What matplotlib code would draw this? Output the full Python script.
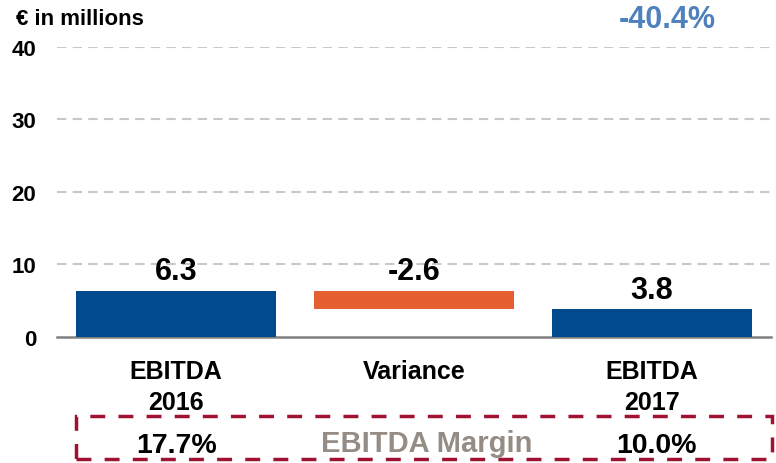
import matplotlib
matplotlib.use("Agg")
import matplotlib.pyplot as plt
from matplotlib.patches import Rectangle

categories = ["EBITDA\n2016", "Variance", "EBITDA\n2017"]
start_2016 = 6.3
variance = -2.6
end_2017 = 3.8
value_labels = ["6.3", "-2.6", "3.8"]
margins = ["17.7%", "10.0%"]
margin_title = "EBITDA Margin"
change_label = "-40.4%"
yticks = [0, 10, 20, 30, 40]

plt.rcParams['font.family'] = ['Liberation Sans', 'DejaVu Sans']

fig = plt.figure(figsize=(7.76, 4.64), dpi=100)
ax = fig.add_axes([0.0735, 0.2716, 0.920, 0.625])

blue = "#004A8D"
orange = "#E46033"
x = [0, 1, 2]
w = 0.84
ax.bar(x[0], start_2016, width=w, color=blue, zorder=3)
ax.bar(x[1], -variance, bottom=end_2017, width=w, color=orange, zorder=3)
ax.bar(x[2], end_2017, width=w, color=blue, zorder=3)

tops = [start_2016, start_2016, end_2017]
for xi, t, lab in zip(x, tops, value_labels):
    ax.annotate(lab, (xi, t), xytext=(0, 8.5), textcoords="offset points",
                ha="center", va="baseline", fontsize=22, fontweight="bold", color="black", zorder=4)

ax.set_xlim(-0.5, 2.5)
ax.set_ylim(0, 40)
ax.set_yticks(yticks)
ax.set_yticklabels([str(v) for v in yticks], fontsize=16, fontweight="bold")
ax.set_xticks(x)
ax.set_xticklabels(categories, fontsize=18, fontweight="bold", linespacing=1.38)
ax.tick_params(axis="y", length=0, pad=15)
ax.tick_params(axis="x", length=0, pad=16)
for v in yticks[1:]:
    ax.axhline(v, color="#C8C8C8", linestyle=(0, (4.5, 3)), linewidth=1.5, zorder=1)
for s in ["top", "right", "left"]:
    ax.spines[s].set_visible(False)
ax.spines["bottom"].set_color("#808080")
ax.spines["bottom"].set_linewidth(1.8)

fig.text(16/776, 1 - 25/464, "€ in millions", fontsize=16, fontweight="bold", va="baseline", ha="left")
fig.text(667/776, 1 - 28/464, change_label, fontsize=22, fontweight="bold", color="#4F81BD", va="baseline", ha="center")

rect = Rectangle((76/776, 1 - 460/464), (772-76)/776, (460-417)/464, transform=fig.transFigure,
                 fill=False, edgecolor="#A01232", linewidth=2.5, linestyle=(0, (4.3, 3.8)))
fig.patches.append(rect)
fig.text(177/776, 1 - 453/464, margins[0], fontsize=20.5, fontweight="bold", ha="center", va="baseline")
fig.text(427/776, 1 - 452/464, margin_title, fontsize=21, fontweight="bold", color="#958C85", ha="center", va="baseline")
fig.text(657/776, 1 - 453/464, margins[1], fontsize=20.5, fontweight="bold", ha="center", va="baseline")

fig.savefig("out.png", dpi=100)
